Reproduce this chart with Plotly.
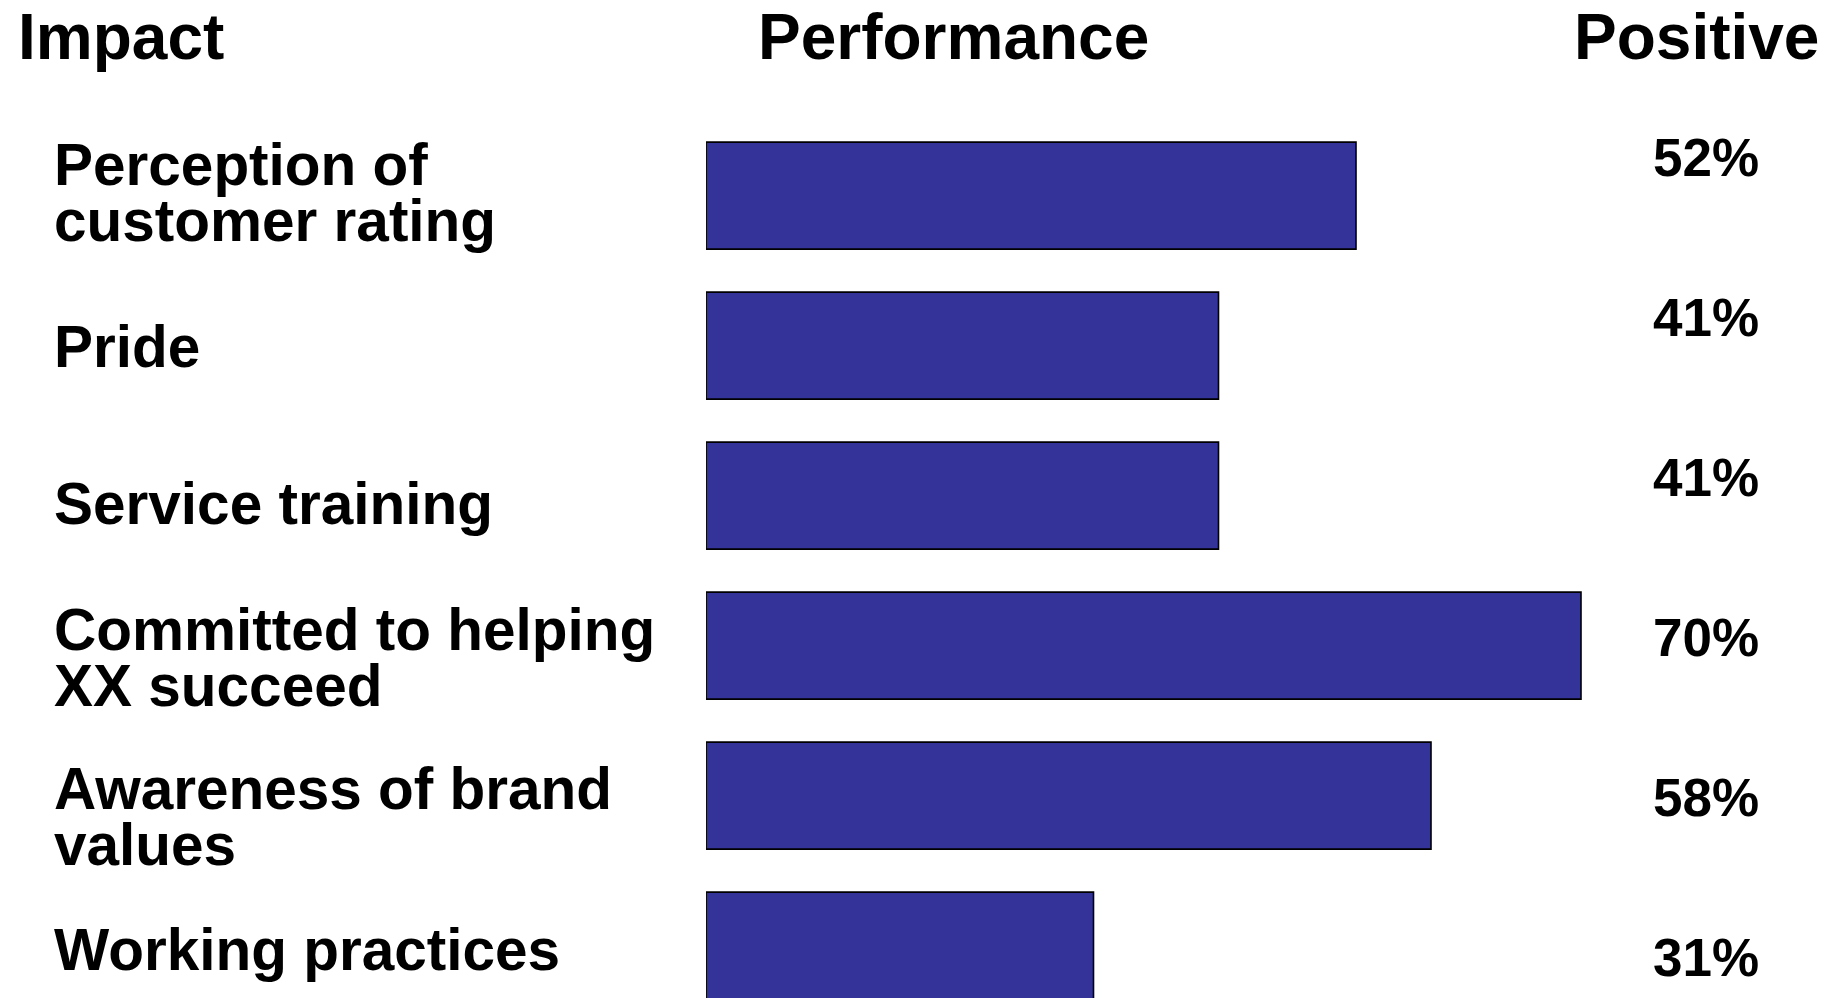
import plotly.graph_objects as go

# Survey items (each entry is one row, split into the lines it is printed on)
item_lines = [
    ["Perception of", "customer rating"],
    ["Pride"],
    ["Service training"],
    ["Committed to helping", "XX succeed"],
    ["Awareness of brand", "values"],
    ["Working practices"],
]
categories = [" ".join(lines) for lines in item_lines]

# Share of positive responses, in percent
positive = [52, 41, 41, 70, 58, 31]

headers = ["Impact", "Performance", "Positive"]

W, H = 1832, 998
FONT = "Liberation Sans, Arial, Helvetica, sans-serif"
BAR_COLOR = "#333399"

# Bar area geometry (pixels)
bar_left_px = 706
px_per_pct = 12.5
row_pitch_px = 150.0
first_row_px = 195.6

fig = go.Figure(
    go.Bar(
        x=positive,
        y=categories,
        orientation="h",
        width=0.713,
        marker=dict(color=BAR_COLOR, line=dict(color="#000000", width=1.6)),
        hoverinfo="skip",
    )
)

top_idx = -first_row_px / row_pitch_px
bottom_idx = top_idx + H / row_pitch_px

fig.update_layout(
    width=W,
    height=H,
    margin=dict(l=0, r=0, t=0, b=0),
    paper_bgcolor="white",
    plot_bgcolor="white",
    showlegend=False,
    xaxis=dict(
        domain=[bar_left_px / W, 1],
        range=[0, (W - bar_left_px) / px_per_pct],
        visible=False,
    ),
    yaxis=dict(
        type="category",
        categoryorder="array",
        categoryarray=categories,
        range=[bottom_idx, top_idx],
        visible=False,
    ),
)


def py(px):
    return 1 - px / H


annotations = []

# Column headers
hdr_font = dict(family=FONT, size=64, color="black")
hdr_y = py(37)
annotations.append(dict(text="<b>%s</b>" % headers[0], xref="paper", yref="paper",
                        x=15.5 / W, y=hdr_y, xanchor="left", yanchor="middle",
                        showarrow=False, font=hdr_font))
annotations.append(dict(text="<b>%s</b>" % headers[1], xref="paper", yref="paper",
                        x=953 / W, y=hdr_y, xanchor="center", yanchor="middle",
                        showarrow=False, font=hdr_font))
annotations.append(dict(text="<b>%s</b>" % headers[2], xref="paper", yref="paper",
                        x=1821 / W, y=hdr_y, xanchor="right", yanchor="middle",
                        showarrow=False, font=hdr_font))

# Row labels, one annotation per printed line, tied to each bar's category
lbl_font = dict(family=FONT, size=58.5, color="black")
line_gap_px = 56
label_nudge_px = [-3, 1, 8, 12, 21, 4]
for cat, lines, nudge in zip(categories, item_lines, label_nudge_px):
    n = len(lines)
    for j, line in enumerate(lines):
        offset = (j - (n - 1) / 2) * line_gap_px + nudge
        annotations.append(dict(text="<b>%s</b>" % line, xref="paper", yref="y",
                                x=51.5 / W, y=cat, yshift=-offset,
                                xanchor="left", yanchor="middle",
                                showarrow=False, font=lbl_font))

# Percentage column
pct_font = dict(family=FONT, size=53, color="black")
pct_first_px = 157.7
pct_pitch_px = 160.0
for i, v in enumerate(positive):
    annotations.append(dict(text="<b>%d%%</b>" % v, xref="paper", yref="paper",
                            x=1651 / W, y=py(pct_first_px + i * pct_pitch_px),
                            xanchor="left", yanchor="middle",
                            showarrow=False, font=pct_font))

fig.update_layout(annotations=annotations)

fig.write_html("out.html")
